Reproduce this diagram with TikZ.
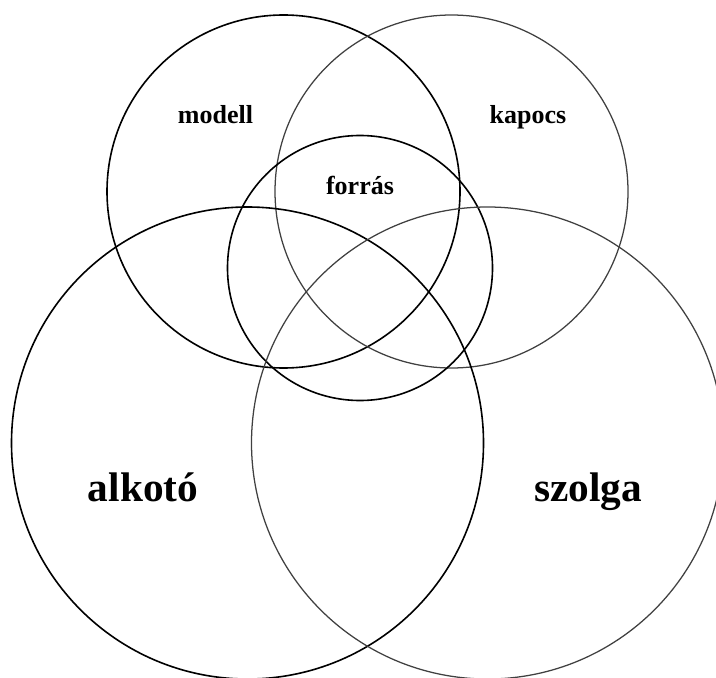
\documentclass[tikz,border=0pt]{standalone}
\usepackage{fontspec}
\setmainfont{Liberation Serif}
\begin{document}
\begin{tikzpicture}[x=0.75pt,y=-0.75pt,
  ring/.style={draw=black, line width=1.2pt, circle, inner sep=0pt},
  greyring/.style={draw=black!75, line width=0.95pt, circle, inner sep=0pt},
  small/.style={font=\bfseries\fontsize{19.5}{22}\selectfont, inner sep=0pt, anchor=base},
  big/.style={font=\bfseries\fontsize{31}{34}\selectfont, inner sep=0pt, anchor=base}]
\useasboundingbox (0,0) rectangle (716,677);
\clip (0,0) rectangle (716,677);
\node[ring, minimum size=264.75pt] (modellc) at (283.5,191.5) {};
\node[greyring, minimum size=264.75pt] (kapocsc) at (451.5,191.5) {};
\node[ring, minimum size=198.75pt] (forrasc) at (360,268) {};
\node[ring, minimum size=354pt] (alkotoc) at (247.5,443) {};
\node[greyring, minimum size=354pt] (szolgac) at (487.5,443) {};
\node[small] (modell) at (215.5,124) {modell};
\node[small] (kapocs) at (528,124) {kapocs};
\node[small] (forras) at (360,195) {forrás};
\node[big] (alkoto) at (143,501) {alkotó};
\node[big] (szolga) at (588,501) {szolga};
\end{tikzpicture}
\end{document}
